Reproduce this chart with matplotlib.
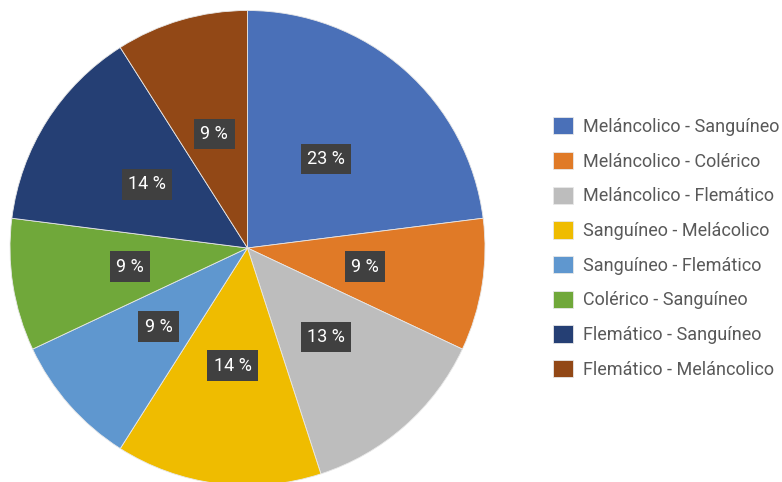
import matplotlib.pyplot as plt

# pares de temperamentos y su porcentaje
labels = ['Meláncolico - Sanguíneo', 'Meláncolico - Colérico', 'Meláncolico - Flemático',
          'Sanguíneo - Melácolico', 'Sanguíneo - Flemático', 'Colérico - Sanguíneo',
          'Flemático - Sanguíneo', 'Flemático - Meláncolico']
values = [23, 9, 13, 14, 9, 9, 14, 9]
colors = ['#4A70B8', '#E07A27', '#BDBDBD', '#EFBC00', '#5F97CF', '#70A83A', '#253F74', '#924816']

plt.rcParams['font.family'] = ['Roboto', 'DejaVu Sans']

fig = plt.figure(figsize=(7.82, 4.82), dpi=100)
W, H = 782, 482
cx, cy, r = 247.5, 248, 237.5
ax = fig.add_axes([(cx - r) / W, (H - cy - r) / H, 2 * r / W, 2 * r / H])

wedges, texts, autotexts = ax.pie(
    values, colors=colors, startangle=90, counterclock=False,
    autopct=lambda p: f'{p:.0f} %', pctdistance=0.5,
    wedgeprops=dict(edgecolor='#e8e8e8', linewidth=0.6))

for t in autotexts:
    t.set_color('white')
    t.set_fontsize(13)
    t.set_bbox(dict(boxstyle='square,pad=0.35', facecolor='#404040', edgecolor='none'))

ax.set_xlim(-1, 1)
ax.set_ylim(-1, 1)

fig.legend(wedges, labels, loc='center left', bbox_to_anchor=(537 / W, 1 - 248 / H),
           frameon=False, fontsize=13, handlelength=1.1, handleheight=1.1,
           labelspacing=0.88, handletextpad=0.55, labelcolor='#595959')

fig.savefig('out.png', dpi=100)
